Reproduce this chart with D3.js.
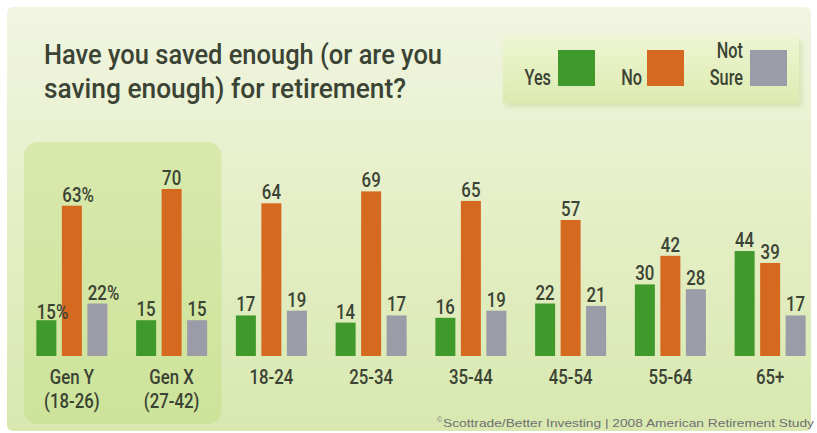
<!DOCTYPE html>
<html>
<head>
<meta charset="utf-8">
<script src="https://cdn.jsdelivr.net/npm/d3@7"></script>
<style>
  html, body { margin: 0; padding: 0; background: #ffffff; }
  svg { display: block; }
</style>
</head>
<body>
<svg id="chart" width="817" height="433"></svg>
<script>
// Survey: "Have you saved enough for retirement?" by generation / age group
const categories = ["Gen Y|(18-26)", "Gen X|(27-42)", "18-24", "25-34", "35-44", "45-54", "55-64", "65+"];
const series = ["Yes", "No", "Not Sure"];
const yesValues = [15, 15, 17, 14, 16, 22, 30, 44];
const noValues = [63, 70, 64, 69, 65, 57, 42, 39];
const notSureValues = [22, 15, 19, 17, 19, 21, 28, 17];
const percentCategories = ["Gen Y|(18-26)"];
const title = ["Have you saved enough (or are you", "saving enough) for retirement?"];
const source = "Scottrade/Better Investing | 2008 American Retirement Study";

const colors = { "Yes": "#3f9a2b", "No": "#d5691f", "Not Sure": "#9c9ba8" };
const textColor = "#3a4334";
const face = "Roboto, 'Liberation Sans', 'DejaVu Sans', sans-serif";
const weight = 500;

const svg = d3.select("#chart");

// squeeze a text element horizontally around its anchor point
function squeeze(sel, k) {
  sel.each(function () {
    const t = d3.select(this);
    const x = +t.attr("x"), y = +t.attr("y");
    t.attr("transform", `translate(${x},${y}) scale(${k},1) translate(${-x},${-y})`);
  });
}

// backgrounds
const defs = svg.append("defs");
const bg = defs.append("linearGradient").attr("id", "bg").attr("x1", 0).attr("y1", 0).attr("x2", 0).attr("y2", 1);
bg.append("stop").attr("offset", "0%").attr("stop-color", "#f1f5e2");
bg.append("stop").attr("offset", "45%").attr("stop-color", "#e6efc8");
bg.append("stop").attr("offset", "100%").attr("stop-color", "#d8e8b0");
const hl = defs.append("linearGradient").attr("id", "hl").attr("x1", 0).attr("y1", 0).attr("x2", 0).attr("y2", 1);
hl.append("stop").attr("offset", "0%").attr("stop-color", "#d9e9ad");
hl.append("stop").attr("offset", "100%").attr("stop-color", "#cde39a");
const lg = defs.append("linearGradient").attr("id", "lg").attr("x1", 0).attr("y1", 0).attr("x2", 0).attr("y2", 1);
lg.append("stop").attr("offset", "0%").attr("stop-color", "#eef5d2");
lg.append("stop").attr("offset", "100%").attr("stop-color", "#dcebb0");
const blur = defs.append("filter").attr("id", "soft").attr("x", "-10%").attr("y", "-10%").attr("width", "120%").attr("height", "130%");
blur.append("feGaussianBlur").attr("stdDeviation", 2.5);

svg.append("rect").attr("x", 7).attr("y", 7).attr("width", 804).attr("height", 424)
  .attr("rx", 6).attr("fill", "url(#bg)");

// scales
const x0 = d3.scaleBand().domain(categories).range([22, 820]).padding(0);
const x1 = d3.scaleBand().domain(series).range([-35.5, 35.5]).paddingInner(0.216).paddingOuter(0);
const y = d3.scaleLinear().domain([0, 70]).range([356, 189]);

// highlighted generation panel
svg.append("rect")
  .attr("x", x0(categories[0]) + 2).attr("y", 142)
  .attr("width", x0(categories[1]) + x0.bandwidth() - x0(categories[0]) - 2)
  .attr("height", 282).attr("rx", 14)
  .attr("fill", "url(#hl)");

// title: one text block, one tspan per line, each line fitted to its width
const titleText = svg.append("text")
  .attr("x", 44).attr("y", 64)
  .attr("font-family", face).attr("font-weight", weight).attr("font-size", 28)
  .attr("fill", textColor);
titleText.selectAll("tspan").data(title).join("tspan")
  .attr("x", 44).attr("y", (d, i) => 64 + i * 34)
  .attr("textLength", (d, i) => i === 0 ? 398 : 362)
  .attr("lengthAdjust", "spacingAndGlyphs")
  .text(d => d);

// legend
const legend = svg.append("g");
legend.append("rect").attr("x", 506).attr("y", 41).attr("width", 296).attr("height", 66)
  .attr("fill", "#c9d9a0").attr("opacity", 0.6).attr("filter", "url(#soft)");
legend.append("rect").attr("x", 503).attr("y", 37).attr("width", 296).attr("height", 66)
  .attr("fill", "url(#lg)");
const legendItems = [
  { key: "Yes", lines: ["Yes"], textRight: 551, sq: 558 },
  { key: "No", lines: ["No"], textRight: 642, sq: 647 },
  { key: "Not Sure", lines: ["Not", "Sure"], textRight: 743, sq: 750 }
];
legendItems.forEach(it => {
  legend.append("rect").attr("x", it.sq).attr("y", 50).attr("width", 37).attr("height", 36)
    .attr("fill", colors[it.key]);
  const t = legend.append("text")
    .attr("x", it.textRight).attr("y", 85)
    .attr("text-anchor", "end")
    .attr("font-family", face).attr("font-weight", weight).attr("font-size", 22)
    .attr("fill", textColor);
  t.selectAll("tspan").data(it.lines).join("tspan")
    .attr("x", it.textRight).attr("y", (d, i) => 85 - (it.lines.length - 1 - i) * 27)
    .text(d => d);
  squeeze(t, 0.74);
});

// bars
const rows = categories.map((c, i) => ({
  category: c,
  values: [
    { key: "Yes", value: yesValues[i] },
    { key: "No", value: noValues[i] },
    { key: "Not Sure", value: notSureValues[i] }
  ]
}));

const groups = svg.append("g").selectAll("g").data(rows).join("g")
  .attr("transform", d => `translate(${x0(d.category) + x0.bandwidth() / 2},0)`);

groups.selectAll("rect").data(d => d.values).join("rect")
  .attr("x", d => x1(d.key))
  .attr("y", d => y(d.value))
  .attr("width", x1.bandwidth())
  .attr("height", d => y(0) - y(d.value))
  .attr("fill", d => colors[d.key]);

// value labels: the number is centred on its bar, a "%" sign hangs after it
const labelK = 0.8;
groups.each(function (row) {
  const g = d3.select(this);
  const pct = percentCategories.includes(row.category);
  row.values.forEach(v => {
    const cx = x1(v.key) + x1.bandwidth() / 2;
    const ty = pct && v.key === "Yes" ? y(v.value) - 1 : y(v.value) - 4;
    const t = g.append("text")
      .attr("x", cx).attr("y", ty)
      .attr("text-anchor", "middle")
      .attr("font-family", face).attr("font-weight", weight).attr("font-size", 21)
      .attr("fill", textColor).text(v.value);
    squeeze(t, labelK);
    if (pct) {
      const w = t.node().getComputedTextLength() * labelK;
      const p = g.append("text")
        .attr("x", cx + w / 2).attr("y", ty)
        .attr("font-family", face).attr("font-weight", weight).attr("font-size", 21)
        .attr("fill", textColor).text("%");
      squeeze(p, labelK);
    }
  });
});

// category labels (two-line labels share one text block)
groups.append("text")
  .attr("class", "cat")
  .attr("x", 0).attr("y", 384)
  .attr("text-anchor", "middle")
  .attr("font-family", face).attr("font-weight", weight).attr("font-size", 20)
  .attr("fill", textColor)
  .each(function (d) {
    d3.select(this).selectAll("tspan").data(d.category.split("|")).join("tspan")
      .attr("x", 0).attr("y", (s, i) => 384 + i * 24)
      .text(s => s);
  })
  .call(squeeze, 0.84);

// source note
svg.append("text").attr("x", 437).attr("y", 422)
  .attr("font-family", "'Liberation Sans', Arial, sans-serif").attr("font-size", 7)
  .attr("fill", "#777").text("©");
svg.append("text").attr("x", 443).attr("y", 427)
  .attr("font-family", "'Liberation Sans', Arial, sans-serif").attr("font-size", 11)
  .attr("fill", "#6f6f6f").text(source)
  .attr("textLength", 371).attr("lengthAdjust", "spacingAndGlyphs");
</script>
</body>
</html>
